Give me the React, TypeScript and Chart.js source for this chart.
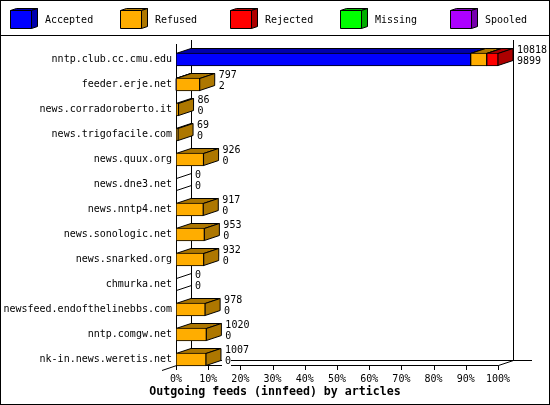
import React, { useEffect, useRef } from "react";
import { Chart, registerables } from "chart.js";

Chart.register(...registerables);

const hosts = [
  "nntp.club.cc.cmu.edu", "feeder.erje.net", "news.corradoroberto.it", "news.trigofacile.com",
  "news.quux.org", "news.dne3.net", "news.nntp4.net", "news.sonologic.net", "news.snarked.org",
  "chmurka.net", "newsfeed.endofthelinebbs.com", "nntp.comgw.net", "nk-in.news.weretis.net",
];
const offered = [10818, 797, 86, 69, 926, 0, 917, 953, 932, 0, 978, 1020, 1007];
const accepted = [9899, 2, 0, 0, 0, 0, 0, 0, 0, 0, 0, 0, 0];
const refused = [540, 795, 86, 69, 926, 0, 917, 953, 932, 0, 978, 1020, 1007];
const rejected = [379, 0, 0, 0, 0, 0, 0, 0, 0, 0, 0, 0, 0];
const missing = [0, 0, 0, 0, 0, 0, 0, 0, 0, 0, 0, 0, 0];
const spooled = [0, 0, 0, 0, 0, 0, 0, 0, 0, 0, 0, 0, 0];
const xTicks = [0, 10, 20, 30, 40, 50, 60, 70, 80, 90, 100];

const seriesNames = ["Accepted", "Refused", "Rejected", "Missing", "Spooled"];
const seriesValues = [accepted, refused, rejected, missing, spooled];
const frontColors = ["#0000FF", "#FFAD00", "#FF0000", "#00FF00", "#AD00FF"];
const sideColors = ["#0000AD", "#AD7700", "#AD0000", "#00AD00", "#7700AD"];

const FONT = '10px "DejaVu Sans Mono", monospace';
const DX = 15;
const DY = 5;
const maxOffered = Math.max(...offered);

function poly(ctx: CanvasRenderingContext2D, pts: number[][], fill: string) {
  ctx.beginPath();
  pts.forEach((p, i) => (i ? ctx.lineTo(p[0], p[1]) : ctx.moveTo(p[0], p[1])));
  ctx.closePath();
  ctx.fillStyle = fill;
  ctx.fill();
  ctx.strokeStyle = "#000";
  ctx.lineWidth = 1;
  ctx.stroke();
}

function line(ctx: CanvasRenderingContext2D, x0: number, y0: number, x1: number, y1: number) {
  ctx.beginPath();
  ctx.moveTo(x0, y0);
  ctx.lineTo(x1, y1);
  ctx.strokeStyle = "#000";
  ctx.lineWidth = 1;
  ctx.stroke();
}

const frame3d = {
  id: "frame3d",
  afterLayout(chart: any) {
    // let the long host names use the full width left of the plot
    chart.scales.y.left = 0;
  },
  beforeDatasetsDraw(chart: any) {
    const ctx: CanvasRenderingContext2D = chart.ctx;
    const xs = chart.scales.x;
    const ys = chart.scales.y;
    const left = Math.round(xs.getPixelForValue(0)) + 0.5;
    const right = Math.round(xs.getPixelForValue(100)) + 0.5;
    const floor = 365.5;
    ctx.save();
    // outer frame and legend rule
    ctx.strokeStyle = "#000";
    ctx.lineWidth = 1;
    ctx.strokeRect(0.5, 0.5, 549, 404);
    line(ctx, 0, 35.5, 550, 35.5);
    // walls and floor
    line(ctx, left + DX, 40, left + DX, floor - DY);
    line(ctx, right + DX, 40, right + DX, floor - DY);
    line(ctx, left, 44, left, floor);
    line(ctx, left, floor, right, floor);
    line(ctx, left + DX, floor - DY, 532, floor - DY);
    line(ctx, 162, 370.5, left + DX, floor - DY);
    line(ctx, right, floor, right + DX, floor - DY);
    xTicks.forEach((t) => {
      const x = Math.round(xs.getPixelForValue(t)) + 0.5;
      line(ctx, x, floor, x, 370);
    });
    // legend
    seriesNames.forEach((name, i) => {
      const x = 10.5 + i * 110;
      poly(ctx, [[x, 10.5], [x + 6, 8.5], [x + 27, 8.5], [x + 21, 10.5]], sideColors[i]);
      poly(ctx, [[x + 21, 10.5], [x + 27, 8.5], [x + 27, 26.5], [x + 21, 28.5]], sideColors[i]);
      poly(ctx, [[x, 10.5], [x + 21, 10.5], [x + 21, 28.5], [x, 28.5]], frontColors[i]);
      ctx.font = FONT;
      ctx.fillStyle = "#000";
      ctx.textAlign = "left";
      ctx.textBaseline = "middle";
      ctx.fillText(name, x + 34.5, 20);
    });
    // depth faces of the bars
    hosts.forEach((_, row) => {
      const c = ys.getPixelForValue(row);
      const yt = Math.floor(c - 6) + 0.5;
      const yb = yt + 12;
      seriesValues.forEach((vals, s) => {
        if (!vals[row]) return;
        const p = chart.getDatasetMeta(s).data[row];
        poly(ctx, [[p.base, yt], [p.base + DX, yt - DY], [p.x + DX, yt - DY], [p.x, yt]], sideColors[s]);
        poly(ctx, [[p.x, yt], [p.x + DX, yt - DY], [p.x + DX, yb - DY], [p.x, yb]], sideColors[s]);
      });
      if (!offered[row]) {
        line(ctx, left, yt, left + DX, yt - DY);
        line(ctx, left, yb, left + DX, yb - DY);
      }
    });
    ctx.restore();
  },
  afterDatasetsDraw(chart: any) {
    const ctx: CanvasRenderingContext2D = chart.ctx;
    const xs = chart.scales.x;
    const ys = chart.scales.y;
    ctx.save();
    ctx.font = FONT;
    ctx.textAlign = "left";
    ctx.textBaseline = "middle";
    hosts.forEach((_, row) => {
      const c = ys.getPixelForValue(row);
      const x = xs.getPixelForValue((offered[row] / maxOffered) * 100) + DX + 4;
      const a = String(accepted[row]);
      ctx.fillStyle = "#fff";
      ctx.fillRect(x - 3, c - 3, ctx.measureText(a).width + 3, 10);
      ctx.fillStyle = "#000";
      ctx.fillText(String(offered[row]), x, c - 9);
      ctx.fillText(a, x, c + 2);
    });
    ctx.restore();
  },
};

export default function App() {
  const ref = useRef<HTMLCanvasElement>(null);
  useEffect(() => {
    const chart = new Chart(ref.current as HTMLCanvasElement, {
      type: "bar",
      data: {
        labels: hosts,
        datasets: seriesNames.map((label, i) => ({
          label,
          data: seriesValues[i].map((v) => (v / maxOffered) * 100),
          backgroundColor: frontColors[i],
          borderColor: "#000",
          borderWidth: 1,
          borderSkipped: false,
          barThickness: 13,
        })),
      },
      options: {
        indexAxis: "y",
        responsive: false,
        animation: false,
        devicePixelRatio: 1,
        layout: { padding: { top: 47, right: 52, bottom: 0, left: 52 } },
        plugins: {
          legend: { display: false },
          tooltip: { enabled: false },
          title: {
            display: true,
            position: "bottom",
            text: "Outgoing feeds (innfeed) by articles",
            color: "#000",
            padding: { top: 0, bottom: 6 },
            font: { family: '"DejaVu Sans Mono", monospace', size: 11.6, weight: "bold", lineHeight: 1.2 },
          },
        },
        scales: {
          x: {
            stacked: true,
            min: 0,
            max: 100,
            border: { display: false },
            grid: { display: false, drawTicks: false },
            afterFit: (s: any) => { s.height = 13.08; },
            ticks: {
              stepSize: 10,
              autoSkip: false,
              maxRotation: 0,
              padding: 1,
              color: "#000",
              font: { family: '"DejaVu Sans Mono", monospace', size: 10 },
              callback: (v: any) => v + "%",
            },
          },
          y: {
            stacked: true,
            border: { display: false },
            grid: { display: false, drawTicks: false },
            afterFit: (s: any) => { s.width = 124; },
            ticks: {
              autoSkip: false,
              padding: 4,
              color: "#000",
              font: { family: '"DejaVu Sans Mono", monospace', size: 10 },
            },
          },
        },
      },
      plugins: [
        { id: "white", beforeDraw(c: any) { c.ctx.save(); c.ctx.fillStyle = "#fff"; c.ctx.fillRect(0, 0, 550, 405); c.ctx.restore(); } },
        frame3d,
      ],
    } as any);
    return () => chart.destroy();
  }, []);
  return (
    <div style={{ position: "absolute", left: 0, top: 0, width: 550, height: 405 }}>
      <canvas ref={ref} width={550} height={405} style={{ display: "block" }} />
    </div>
  );
}
